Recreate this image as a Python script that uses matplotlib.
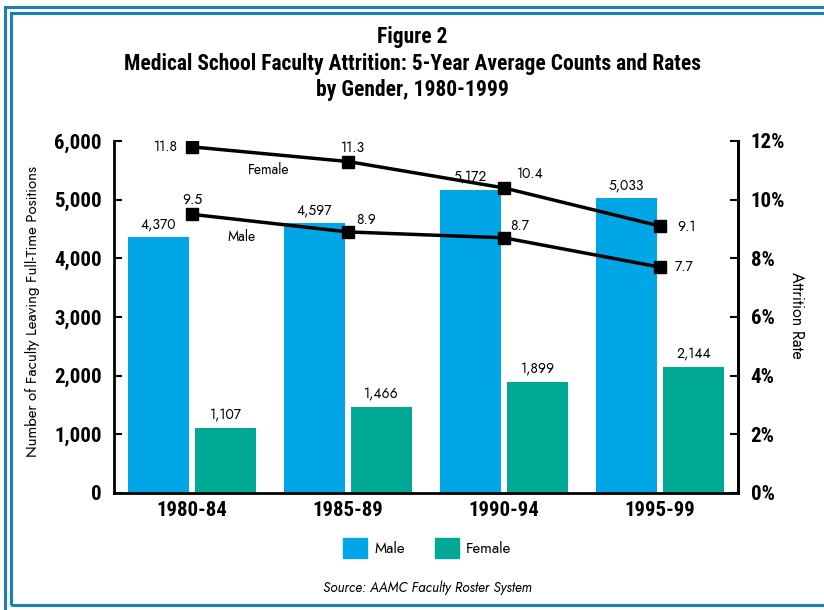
import matplotlib
matplotlib.use("Agg")
from matplotlib import pyplot as plt
from matplotlib.patches import Rectangle, Patch
import numpy as np

# data
periods = ["1980-84", "1985-89", "1990-94", "1995-99"]
male_counts = [4370, 4597, 5172, 5033]
female_counts = [1107, 1466, 1899, 2144]
female_rate = [11.8, 11.3, 10.4, 9.1]
male_rate = [9.5, 8.9, 8.7, 7.7]

blue = "#00a6e6"
teal = "#00a896"
frame = "#1a80b8"
cond = ["Roboto Condensed", "Open Sans Condensed", "DejaVu Sans"]
body = ["Jost", "Lato", "DejaVu Sans"]

fig = plt.figure(figsize=(8.24, 6.10), dpi=100)

# blue double frame
fig.add_artist(Rectangle((4.5 / 824, -0.1), 1.2, 1.1 - 7 / 610, transform=fig.transFigure,
                         fill=False, ec=frame, lw=2.2))
fig.add_artist(Rectangle((10.5 / 824, 1 - 605 / 610), 1.2, (605 - 13) / 610, transform=fig.transFigure,
                         fill=False, ec=frame, lw=2.2))

ax = fig.add_axes([114 / 824, 1 - 493 / 610, 624 / 824, 352 / 610])
x = np.arange(len(periods))
w = 0.39
ax.bar(x - 0.215, male_counts, w, color=blue, label="Male")
ax.bar(x + 0.215, female_counts, w, color=teal, label="Female")
for i in range(len(periods)):
    ax.annotate(f"{male_counts[i]:,}", (x[i] - 0.215, male_counts[i]), xytext=(0, 4),
                textcoords="offset points", ha="center", va="bottom", fontsize=10, family=body)
    ax.annotate(f"{female_counts[i]:,}", (x[i] + 0.215, female_counts[i]), xytext=(0, 4),
                textcoords="offset points", ha="center", va="bottom", fontsize=10, family=body)

ax.set_xlim(-0.5, 3.5)
ax.set_ylim(0, 6000)
ax.set_yticks(range(0, 6001, 1000))
ax.set_yticklabels([f"{v:,}" for v in range(0, 6001, 1000)], family=cond, fontsize=15, fontweight=800)
ax.set_xticks(x)
ax.set_xticklabels(periods, family=cond, fontsize=15, fontweight=800)
ax.tick_params(axis="y", direction="in", length=6, width=1.5, pad=9)
ax.tick_params(axis="x", length=0, pad=6)
ax.spines["top"].set_visible(False)
for s in ["left", "bottom", "right"]:
    ax.spines[s].set_linewidth(2)
ax.set_ylabel("Number of Faculty Leaving Full-Time Positions", fontsize=10.8, family=body)
ax.yaxis.set_label_coords(-74 / 624, 0.517)

ax2 = ax.twinx()
ax2.set_ylim(0, 12)
ax2.set_yticks(range(0, 13, 2))
ax2.set_yticklabels([f"{v}%" for v in range(0, 13, 2)], family=cond, fontsize=15, fontweight=800)
ax2.tick_params(axis="y", direction="in", length=6, width=1.5, pad=9)
for s in ["top", "left", "bottom"]:
    ax2.spines[s].set_visible(False)
ax2.spines["right"].set_linewidth(2)
ax2.set_ylabel("Attrition Rate", fontsize=11.5, family=body, rotation=-90, va="center")
ax2.yaxis.set_label_coords(1 + 59 / 624, 0.506)

ax2.plot(x, female_rate, color="black", lw=2.5, marker="s", ms=8, zorder=5)
ax2.plot(x, male_rate, color="black", lw=2.5, marker="s", ms=8, zorder=5)

f_off = [(-26, 0), (5, 14), (26, 14), (26, 0)]
m_off = [(0, 15), (18, 12), (16, 12), (24, 1)]
for i in range(len(periods)):
    ax2.annotate(f"{female_rate[i]}", (x[i], female_rate[i]), xytext=f_off[i],
                 textcoords="offset pixels", ha="center", va="center", fontsize=10, family=body)
    ax2.annotate(f"{male_rate[i]}", (x[i], male_rate[i]), xytext=m_off[i],
                 textcoords="offset pixels", ha="center", va="center", fontsize=10, family=body)
ax2.annotate("Female", (x[0], female_rate[0]), xytext=(77, -23), textcoords="offset pixels",
             ha="center", va="center", fontsize=10, family=body)
ax2.annotate("Male", (x[0], male_rate[0]), xytext=(49, -22), textcoords="offset pixels",
             ha="center", va="center", fontsize=10, family=body)

fig.text(0.5, 1 - 37 / 610, "Figure 2", ha="center", va="center", fontsize=15.5,
         fontweight=800, family=cond)
fig.text(0.5, 1 - 64 / 610, "Medical School Faculty Attrition: 5-Year Average Counts and Rates",
         ha="center", va="center", fontsize=15.5, fontweight=800, family=cond)
fig.text(0.5, 1 - 90 / 610, "by Gender, 1980-1999", ha="center", va="center", fontsize=15.5,
         fontweight=800, family=cond)

handles = [Patch(color=blue, label="Male"), Patch(color=teal, label="Female")]
fig.legend(handles=handles, loc="center", bbox_to_anchor=(427 / 824, 1 - 548 / 610), ncol=2,
           frameon=False, prop={"family": body, "size": 10.8}, handlelength=1.6, handleheight=1.6,
           columnspacing=2.0, handletextpad=0.5)
fig.text(427 / 824, 1 - 588 / 610, "Source: AAMC Faculty Roster System", ha="center", va="center",
         fontsize=9.8, style="italic", family=body)

fig.savefig("out.png", dpi=100)
